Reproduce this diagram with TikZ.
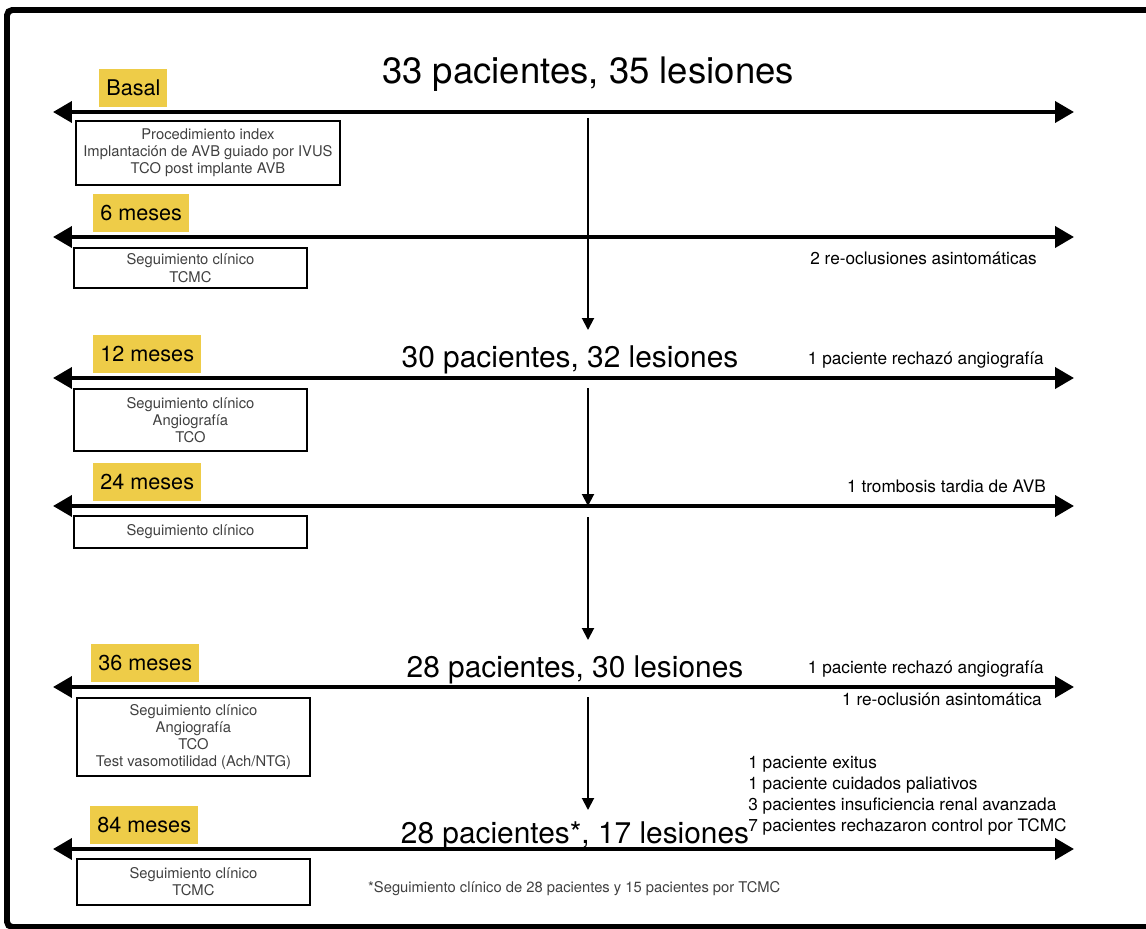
\documentclass[tikz,border=0pt]{standalone}
\usepackage{fontspec}
\setmainfont{TeX Gyre Heros}
\usetikzlibrary{arrows.meta}
\definecolor{tagyellow}{RGB}{238,204,72}
\begin{document}
\begin{tikzpicture}[x=0.02cm, y=-0.02cm,
  tag/.style={anchor=west, fill=tagyellow, inner xsep=4pt, minimum height=0.75cm, font=\fontsize{12.3}{14}\selectfont},
  info/.style={anchor=north west, draw, line width=1.1pt, minimum width=4.66cm, align=center, text=black!75, font=\fontsize{8.4}{9.8}\selectfont},
  note/.style={anchor=base east, font=\fontsize{9.8}{11.9}\selectfont},
  big/.style={anchor=base, font=\fontsize{17}{20}\selectfont},
  tl/.style={line width=2.2pt, {Triangle[length=0.38cm,width=0.42cm]}-{Triangle[length=0.38cm,width=0.42cm]}},
  down/.style={line width=1.1pt, -{Triangle[length=0.24cm,width=0.24cm]}}]
\useasboundingbox (0,0) rectangle (1146,929);
\draw[line width=3.4pt, rounded corners=3pt] (1200,10) -- (7,10) -- (7,927) -- (1200,927);

\coordinate (L0) at (53,112);  \coordinate (R0) at (1074,112);
\coordinate (L1) at (53,237);  \coordinate (R1) at (1074,237);
\coordinate (L2) at (53,378);  \coordinate (R2) at (1074,378);
\coordinate (L3) at (53,506);  \coordinate (R3) at (1074,506);
\coordinate (L4) at (53,687);  \coordinate (R4) at (1074,687);
\coordinate (L5) at (53,849);  \coordinate (R5) at (1074,849);

\draw[tl] (L0) -- (R0);
\draw[tl] (L1) -- (R1);
\draw[tl] (L2) -- (R2);
\draw[tl] (L3) -- (R3);
\draw[tl] (L4) -- (R4);
\draw[tl] (L5) -- (R5);

\node[tag] (basal) at (99,88) {Basal};
\node[tag] (m6) at (93,213) {6 meses};
\node[tag] (m12) at (93,354) {12 meses};
\node[tag] (m24) at (93,482) {24 meses};
\node[tag] (m36) at (91,663) {36 meses};
\node[tag] (m84) at (90,825) {84 meses};

\node[info, minimum width=5.28cm, minimum height=1.28cm] (b0) at (75,120) {Procedimiento index\\Implantación de AVB guiado por IVUS\\TCO post implante AVB};
\node[info, minimum height=0.8cm] (b6) at (73,247) {Seguimiento clínico\\TCMC};
\node[info, minimum height=1.24cm] (b12) at (73,388) {Seguimiento clínico\\Angiografía\\TCO};
\node[info, minimum height=0.64cm] (b24) at (73,515) {Seguimiento clínico};
\node[info, minimum height=1.56cm] (b36) at (76,697) {Seguimiento clínico\\Angiografía\\TCO\\Test vasomotilidad (Ach/NTG)};
\node[info, minimum height=0.92cm] (b84) at (76,858) {Seguimiento clínico\\TCMC};

\node[big, font=\fontsize{20.8}{24}\selectfont] (n33) at (588,84) {33 pacientes, 35 lesiones};
\node[big] (n30) at (570,367) {30 pacientes, 32 lesiones};
\node[big] (n28) at (575,677) {28 pacientes, 30 lesiones};
\node[big] (n28b) at (575,843) {28 pacientes*, 17 lesiones};

\coordinate (a1) at (588,118); \coordinate (a2) at (588,330);
\coordinate (b1) at (588,388); \coordinate (b2) at (588,506);
\coordinate (c1) at (588,517); \coordinate (c2) at (588,640);
\coordinate (d1) at (588,697); \coordinate (d2) at (588,810);

\draw[down] (a1) -- (a2);
\draw[down] (b1) -- (b2);
\draw[down] (c1) -- (c2);
\draw[down] (d1) -- (d2);

\node[note] (reocl) at (1043,265) {2 re-oclusiones asintomáticas};
\node[note] (rech1) at (1050,364) {1 paciente rechazó angiografía};
\node[note] (tromb) at (1052,492) {1 trombosis tardia de AVB};
\node[note] (rech2) at (1050,673) {1 paciente rechazó angiografía};
\node[note] (reocl2) at (1048,705) {1 re-oclusión asintomática};
\node[note, anchor=north west, align=left, inner sep=0pt] (causas) at (748,756) {1 paciente exitus\\1 paciente cuidados paliativos\\3 pacientes insuficiencia renal avanzada\\7 pacientes rechazaron control por TCMC};

\node[anchor=base west, text=black!75, font=\fontsize{8.4}{10}\selectfont] (foot) at (362,892) {*Seguimiento clínico de 28 pacientes y 15 pacientes por TCMC};
\end{tikzpicture}
\end{document}
